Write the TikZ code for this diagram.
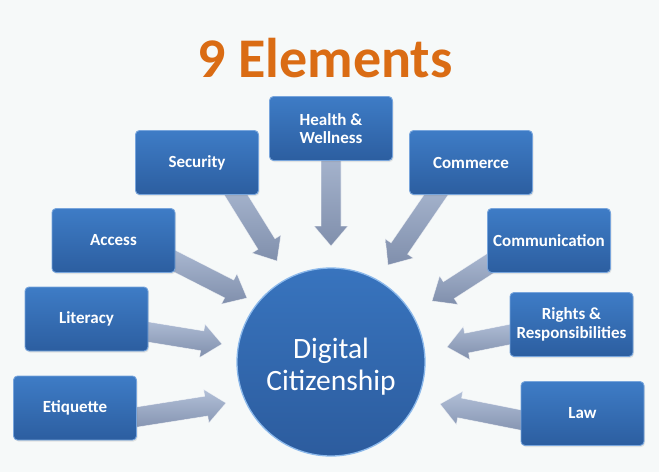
\documentclass[tikz,border=0pt]{standalone}
\usepackage{fontspec}
\setmainfont{Carlito}
\usetikzlibrary{calc,shadows}
\definecolor{bgcol}{RGB}{246,249,249}
\definecolor{boxtop}{RGB}{62,124,198}
\definecolor{boxbot}{RGB}{44,94,160}
\definecolor{boxedge}{RGB}{120,165,220}
\definecolor{circtop}{RGB}{56,116,190}
\definecolor{circbot}{RGB}{44,92,158}
\definecolor{circedge}{RGB}{140,185,235}
\definecolor{arrtop}{RGB}{178,192,216}
\definecolor{arrbot}{RGB}{128,143,172}
\definecolor{titleor}{RGB}{218,108,20}
\pgfdeclarelayer{bglayer}
\pgfdeclarelayer{arrlayer}
\pgfsetlayers{bglayer,arrlayer,main}
\tikzset{
  elembox/.style={rectangle, rounded corners=4pt, minimum width=123pt, minimum height=64pt,
    inner sep=1pt, align=center, top color=boxtop, bottom color=boxbot, draw=boxedge,
    line width=0.9pt, text=white, font=\bfseries\fontsize{17}{18.5}\selectfont,
    drop shadow={opacity=0.18, shadow xshift=1pt, shadow yshift=-1.5pt}},
  hubcircle/.style={circle, minimum size=188pt, inner sep=0pt, align=center,
    top color=circtop, bottom color=circbot, draw=circedge, line width=1.3pt,
    text=white, font=\fontsize{29.5}{32}\selectfont},
  blockarr/.style={top color=arrtop, bottom color=arrbot, draw=white, draw opacity=0.6, line width=0.6pt},
  titlesty/.style={text=titleor, font=\bfseries\fontsize{56}{60}\selectfont, inner sep=0pt}
}
\begin{document}
\begin{tikzpicture}[x=1pt,y=-1pt]
\useasboundingbox (0,0) rectangle (659,472);
\begin{pgfonlayer}{bglayer}
\fill[bgcol] (0,0) rectangle (659,472);
\end{pgfonlayer}

\node[titlesty] (title) at (325,58) {9 Elements};

\node[elembox] (hw)   at (331,128.5) {Health \&\\Wellness};
\node[elembox] (sec)  at (197,162.5) {Security};
\node[elembox] (com)  at (471,162.5) {Commerce};
\node[elembox] (acc)  at (113.5,240.5) {Access};
\node[elembox] (comm) at (549,240.5) {Communication};
\node[elembox] (lit)  at (86.5,319) {Literacy};
\node[elembox] (rig)  at (571.5,324.5) {Rights \&\\Responsibilities};
\node[elembox] (etq)  at (75,408) {Etiquette};
\node[elembox] (law)  at (582.5,413.5) {Law};

\node[hubcircle] (dc) at (331,362) {\rule{0pt}{30pt}Digital\\Citizenship};

% connector start points on the boxes
\coordinate (hwE)   at (hw.south);
\coordinate (secE)  at ([xshift=39pt]sec.south);
\coordinate (comE)  at ([xshift=-35pt]com.south);
\coordinate (accE)  at ([yshift=-21pt]acc.east);
\coordinate (litE)  at ([yshift=-13pt]lit.east);
\coordinate (etqE)  at ([yshift=-9pt]etq.east);
\coordinate (commE) at ([yshift=-25pt]comm.west);
\coordinate (rigE)  at ([yshift=-10pt]rig.west);
\coordinate (lawE)  at ([yshift=-6.5pt]law.west);
% arrow tips near the circle
\coordinate (hwT)   at (331,246);
\coordinate (secT)  at (277,261);
\coordinate (comT)  at (388,265);
\coordinate (accT)  at (247,298);
\coordinate (litT)  at (222,344);
\coordinate (etqT)  at (226,403);
\coordinate (commT) at (432,301);
\coordinate (rigT)  at (447,347);
\coordinate (lawT)  at (440,404);

\begin{pgfonlayer}{arrlayer}
\foreach \e/\t in {hwE/hwT, secE/secT, comE/comT, accE/accT, litE/litT, etqE/etqT, commE/commT, rigE/rigT, lawE/lawT}{
  \coordinate (S) at ($(\t)!1.4!(\e)$);
  \coordinate (H) at ($(\t)!20pt!(\e)$);
  \draw[blockarr] ($(S)!10pt!90:(\t)$) -- ($(H)!10pt!90:(\t)$) -- ($(H)!17pt!90:(\t)$) -- (\t)
    -- ($(H)!17pt!-90:(\t)$) -- ($(H)!10pt!-90:(\t)$) -- ($(S)!10pt!-90:(\t)$) -- cycle;
}
\end{pgfonlayer}
\end{tikzpicture}
\end{document}
